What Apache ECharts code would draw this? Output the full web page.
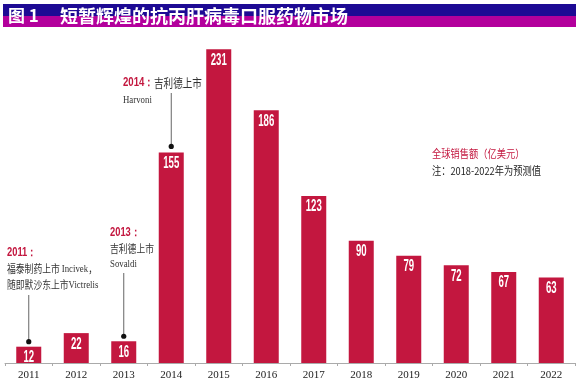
<!DOCTYPE html>
<html><head><meta charset="utf-8">
<script src="https://cdn.jsdelivr.net/npm/echarts@6/dist/echarts.min.js"></script>
<style>html,body{margin:0;padding:0;background:#fff}#c{width:580px;height:386px}</style>
</head><body><div id="c"></div>
<script>
const years = ['2011','2012','2013','2014','2015','2016','2017','2018','2019','2020','2021','2022'];
const sales = [12,22,16,155,231,186,123,90,79,72,67,63];
const titleNo = '图 1';
const titleText = '短暂辉煌的抗丙肝病毒口服药物市场';
const legendText = '全球销售额（亿美元）';
const noteText = '注：2018-2022年为预测值';

const RED = '#c3173f';
const chart = echarts.init(document.getElementById('c'));
chart.setOption({
  animation:false,
  grid:{left:5,right:5,top:37,bottom:23,containLabel:false},
  xAxis:{type:'category',data:years,
    axisLine:{lineStyle:{color:'#aaa',width:1}},
    axisTick:{show:true,alignWithLabel:false,length:3,lineStyle:{color:'#aaa'}},
    axisLabel:{color:'#222',fontFamily:'Liberation Serif',fontSize:11,margin:7}},
  yAxis:{type:'value',min:0,max:240,show:false,splitLine:{show:false}},
  series:[{type:'bar',data:sales,barWidth:25,itemStyle:{color:RED},label:{show:false}}]
});

function px(i){ return chart.convertToPixel({seriesIndex:0},[i,sales[i]]); }
const cjk = '"Noto Sans CJK SC", sans-serif';
const g = [];
// title bar
g.push({type:'rect',z:10,shape:{x:3,y:4,width:573,height:12},style:{fill:'#1d0a94'}});
g.push({type:'rect',z:10,shape:{x:3,y:16,width:573,height:11},style:{fill:'#b3009c'}});
g.push({type:'text',z:11,x:8,y:16,style:{text:titleNo,fill:'#fff',font:'bold 17px '+cjk,textVerticalAlign:'middle'}});
g.push({type:'text',z:11,x:60,y:16,style:{text:titleText,fill:'#fff',font:'bold 18px '+cjk,textVerticalAlign:'middle'}});
// bar value labels (condensed)
sales.forEach((v,i)=>{
  const p = px(i);
  g.push({type:'text',z:20,x:p[0],y:p[1]+11,scaleX:0.6,
    style:{text:String(v),fill:'#fff',font:'bold 16px "Liberation Sans", sans-serif',textAlign:'center',textVerticalAlign:'middle'}});
});
const SX = 0.8;
function t(x,y,text,font,fill,sx){
  g.push({type:'text',z:20,x:x,y:y,scaleX:sx||SX,style:{text:text,fill:fill||'#333',font:font,textVerticalAlign:'middle'}});
}
function pin(x,y1,y2){
  g.push({type:'line',z:20,shape:{x1:x,y1:y1,x2:x,y2:y2},style:{stroke:'#666',lineWidth:1}});
  g.push({type:'circle',z:20,shape:{cx:x,cy:y2,r:2.6},style:{fill:'#111'}});
}
const redF = 'bold 12px "Liberation Sans", sans-serif';
const cjkF = '11px '+cjk;
const serF = '11px "Liberation Serif", serif';
const p2011 = px(0), p2013 = px(2), p2014 = px(3);
// 2011
t(7,253,'2011：',redF,RED,0.78);
g.push({type:'text',z:20,x:7,y:269,scaleX:SX,style:{text:'{c|福泰制药上市 }{s|Incivek}{c|，}',rich:{c:{font:cjkF,fill:'#333'},s:{font:serF,fill:'#333'}},textVerticalAlign:'middle'}});
g.push({type:'text',z:20,x:7,y:285,scaleX:SX,style:{text:'{c|随即默沙东上市}{s|Victrelis}',rich:{c:{font:cjkF,fill:'#333'},s:{font:serF,fill:'#333'}},textVerticalAlign:'middle'}});
pin(p2011[0],295,p2011[1]-5);
// 2013
t(110,233,'2013：',redF,RED,0.78);
t(110,249,'吉利德上市',cjkF,'#333');
t(110,264,'Sovaldi',serF,'#333');
pin(p2013[0],273,p2013[1]-5);
// 2014
g.push({type:'text',z:20,x:123,y:83,scaleX:SX,style:{text:'{r|2014：}{c|吉利德上市}',rich:{r:{font:redF,fill:RED},c:{font:'12px '+cjk,fill:'#333'}},textVerticalAlign:'middle'}});
t(123,100,'Harvoni',serF,'#333');
pin(p2014[0],93,p2014[1]-6);
// legend/note
t(432,154,legendText,cjkF,RED,0.84);
t(432,171,noteText,cjkF,'#222',0.84);
chart.setOption({graphic:g});
</script></body></html>
